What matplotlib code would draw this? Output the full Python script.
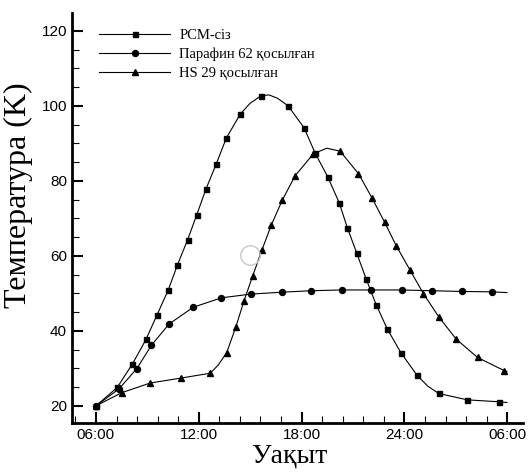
import matplotlib.pyplot as plt
from matplotlib.ticker import MultipleLocator

# hours since midnight (30 = 06:00 next day), temperature
pcm_time = [6.0, 7.24, 8.12, 8.92, 9.56, 10.22, 10.75, 11.35, 11.88, 12.42, 13.02, 13.61,
            14.41, 15.0, 15.65, 16.1, 16.6, 17.21, 18.15, 18.79, 19.53, 20.19, 20.67,
            21.22, 21.77, 22.35, 22.99, 23.79, 24.73, 25.35, 26.0, 27.68, 29.49, 29.98]
pcm_temp = [20.0, 24.9, 31.1, 37.7, 44.2, 50.9, 57.5, 64.3, 70.9, 77.8, 84.5, 91.4,
            97.7, 100.7, 102.7, 102.9, 102.0, 100.0, 94.1, 87.4, 81.0, 74.2, 67.5,
            60.7, 53.8, 47.0, 40.6, 34.2, 28.2, 25.3, 23.3, 21.6, 21.1, 20.9]
pcm_marks = [0, 1, 2, 3, 4, 5, 6, 7, 8, 9, 10, 11, 12, 14, 17, 18, 19, 20, 21, 22,
             23, 24, 25, 26, 27, 28, 30, 31, 32]

par_time = [6.0, 7.34, 8.38, 9.23, 10.26, 11.68, 13.32, 15.03, 16.84, 18.55, 20.35,
            22.06, 23.87, 25.60, 27.35, 29.12, 29.98]
par_temp = [20.0, 24.5, 29.9, 36.1, 41.8, 46.3, 48.8, 49.8, 50.3, 50.7, 50.9,
            50.9, 50.9, 50.7, 50.5, 50.4, 50.2]
par_marks = list(range(16))

hs_time = [6.0, 7.50, 9.17, 10.95, 12.67, 13.14, 13.63, 14.16, 14.64, 15.15, 15.69,
           16.24, 16.88, 17.63, 18.69, 19.47, 20.25, 21.32, 22.10, 22.84, 23.52,
           24.34, 25.11, 26.01, 27.02, 28.27, 29.82, 29.98]
hs_temp = [20.0, 23.5, 26.1, 27.4, 28.7, 30.9, 34.2, 41.0, 48.0, 54.7, 61.6,
           68.3, 74.9, 81.4, 87.2, 88.7, 87.9, 81.9, 75.5, 69.0, 62.7,
           56.1, 49.9, 43.7, 37.8, 32.9, 29.4, 29.2]
hs_marks = [0, 1, 2, 3, 4, 6, 7, 8, 9, 10, 11, 12, 13, 14, 16, 17, 18, 19, 20,
            21, 22, 23, 24, 25, 26]

x_ticks = [6, 12, 18, 24, 30]
x_labels = ["06:00", "12:00", "18:00", "24:00", "06:00"]

fig = plt.figure(figsize=(5.29, 4.73), dpi=100)
ax = fig.add_axes([0.136, 0.106, 0.853, 0.867])

ax.plot(pcm_time, pcm_temp, color="black", lw=0.8, marker="s", ms=3.6,
        markevery=pcm_marks, label="PCM-сіз")
ax.plot(par_time, par_temp, color="black", lw=0.8, marker="o", ms=4.3,
        markevery=par_marks, label="Парафин 62 қосылған")
ax.plot(hs_time, hs_temp, color="black", lw=0.8, marker="^", ms=4.5,
        markevery=hs_marks, label="HS 29 қосылған")

# grey cursor ring visible in the original screenshot
ax.plot([15.0], [60.3], marker="o", ms=14, mfc="none", mec="#c8c8c8", mew=1.0)

ax.set_xlim(4.6, 30.93)
ax.set_ylim(15.47, 124.8)
ax.set_xticks(x_ticks)
ax.set_xticklabels(x_labels)
ax.xaxis.set_minor_locator(MultipleLocator(1.2))
ax.yaxis.set_major_locator(MultipleLocator(20))
ax.yaxis.set_minor_locator(MultipleLocator(5))
ax.tick_params(which="major", direction="in", length=8, width=1.5, labelsize=11,
               colors="black")
ax.tick_params(which="minor", direction="in", length=5, width=0.8)
for lab in ax.get_xticklabels() + ax.get_yticklabels():
    lab.set_family("Liberation Sans")

for s in ["top", "right"]:
    ax.spines[s].set_visible(False)
for s in ["left", "bottom"]:
    ax.spines[s].set_linewidth(2)

ax.set_ylabel("Температура (K)", family="Liberation Serif", fontsize=23)
ax.set_xlabel("Уақыт", family="Liberation Serif", fontsize=20)
ax.yaxis.set_label_coords(-0.087, 0.554)
ax.xaxis.set_label_coords(0.481, -0.05)

ax.legend(loc="upper left", bbox_to_anchor=(0.06, 0.96), frameon=False,
          prop={"family": "Liberation Serif", "size": 10.5},
          borderpad=0, borderaxespad=0,
          handlelength=4.9, labelspacing=0.37, handletextpad=0.6)

fig.savefig("out.png", dpi=100)
